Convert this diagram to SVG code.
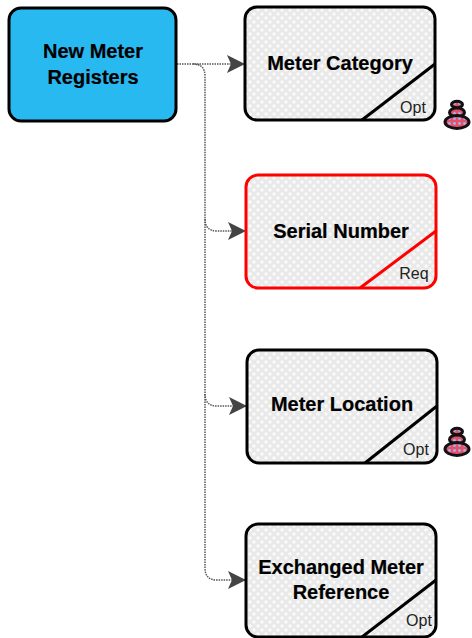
<svg xmlns="http://www.w3.org/2000/svg" width="472" height="638" viewBox="0 0 472 638">
<defs>
<pattern id="dots" width="8" height="8" patternUnits="userSpaceOnUse">
<rect width="8" height="8" fill="#e9e9e9"/>
<circle cx="2" cy="2" r="1.7" fill="#fafafa"/>
<circle cx="6" cy="6" r="1.7" fill="#fafafa"/>
</pattern>
<pattern id="wf" width="5" height="5" patternUnits="userSpaceOnUse">
<rect width="5" height="5" fill="#e8506a"/>
<circle cx="2.5" cy="2.5" r="1.4" fill="#9db4ee"/>
</pattern>
<g id="stack">
<ellipse cx="0" cy="-11.5" rx="5.5" ry="3.2"/>
<ellipse cx="0" cy="-3.5" rx="7.5" ry="4.6"/>
<ellipse cx="0" cy="6" rx="12" ry="6.4"/>
</g>
<marker id="arrow" markerUnits="userSpaceOnUse" markerWidth="20" markerHeight="18" refX="18" refY="9" orient="auto">
<path d="M0 0L18 9L0 18L4 9Z" fill="#444"/>
</marker>
</defs>
<style>
.t{font-family:"Liberation Sans",Arial,sans-serif;font-weight:bold;font-size:20px;fill:#000;text-anchor:middle;stroke:#000;stroke-width:.2px}
.o{font-family:"Liberation Sans",Arial,sans-serif;font-size:16px;fill:#222;text-anchor:middle}
.box{fill:url(#dots);stroke:#000;stroke-width:3}
.diag{fill:none;stroke:#000;stroke-width:3}
.red{stroke:#f00}
.c{fill:none;stroke:#555;stroke-width:1.5;stroke-dasharray:1.5 1}
.st{fill:url(#wf);stroke:#111;stroke-width:3}
</style>
<g id="connectors">
<path class="c" d="M177 64H245" marker-end="url(#arrow)"/>
<path class="c" d="M193 64Q205 64 205 76V219Q205 231 217 231H246" marker-end="url(#arrow)"/>
<path class="c" d="M205 219V394Q205 406 217 406H247" marker-end="url(#arrow)"/>
<path class="c" d="M205 394V568Q205 580 217 580H246" marker-end="url(#arrow)"/>
</g>
<g id="new-meter-registers">
<rect x="9" y="8" width="167" height="113" rx="12" fill="#29b9f1" stroke="#000" stroke-width="3"/>
<text class="t" x="93" y="58">New Meter</text>
<text class="t" x="93" y="84">Registers</text>
</g>
<g id="meter-category">
<rect class="box" x="245" y="7" width="190" height="113" rx="12"/>
<path class="diag" d="M362 120L435 64"/>
<text class="t" x="340" y="70">Meter Category</text>
<text class="o" x="413" y="113">Opt</text>
<use href="#stack" x="457" y="116" class="st"/>
</g>
<g id="serial-number">
<rect class="box red" x="246" y="175" width="190" height="113" rx="12"/>
<path class="diag red" d="M360 288L436 231"/>
<text class="t" x="341" y="238">Serial Number</text>
<text class="o" x="414" y="279">Req</text>
</g>
<g id="meter-location">
<rect class="box" x="247" y="350" width="190" height="113" rx="12"/>
<path class="diag" d="M365 463L437 406"/>
<text class="t" x="342" y="411">Meter Location</text>
<text class="o" x="416" y="455">Opt</text>
<use href="#stack" x="457" y="443" class="st"/>
</g>
<g id="exchanged-meter-reference">
<rect class="box" x="246" y="524" width="190" height="113" rx="12"/>
<path class="diag" d="M362 637L436 580"/>
<text class="t" x="341" y="574">Exchanged Meter</text>
<text class="t" x="341" y="599">Reference</text>
<text class="o" x="419" y="626">Opt</text>
</g>
</svg>
